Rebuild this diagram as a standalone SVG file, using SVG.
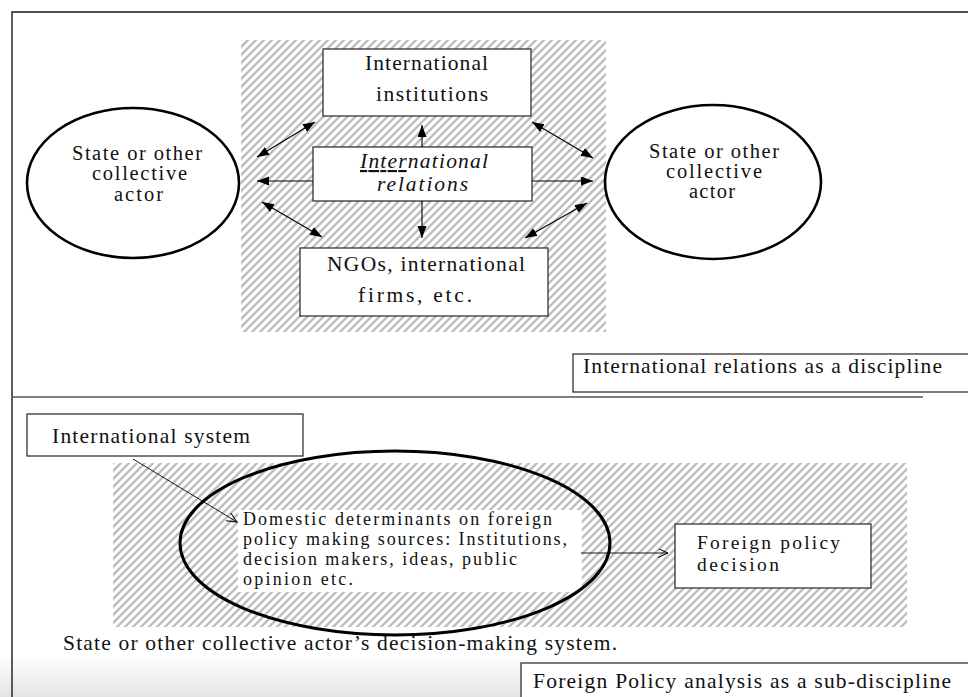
<svg xmlns="http://www.w3.org/2000/svg" width="968" height="697" viewBox="0 0 968 697">
<defs>
<pattern id="hatch" patternUnits="userSpaceOnUse" width="8" height="8">
<path d="M-2,2 L2,-2 M0,8 L8,0 M6,10 L10,6" stroke="#bdbdbd" stroke-width="2.4"/>
</pattern>
<linearGradient id="fade" x1="0" y1="0" x2="0" y2="1">
<stop offset="0" stop-color="#ffffff"/>
<stop offset="1" stop-color="#e4e4e4"/>
</linearGradient>
<marker id="fa" markerUnits="userSpaceOnUse" markerWidth="13" markerHeight="10" refX="12" refY="4.5" orient="auto-start-reverse">
<path d="M0,0 L12,4.5 L0,9 z" fill="#000"/>
</marker>
<marker id="oa" markerUnits="userSpaceOnUse" markerWidth="12" markerHeight="10" refX="10" refY="4.5" orient="auto">
<path d="M0,0 L10,4.5 L0,9" fill="none" stroke="#000" stroke-width="1"/>
</marker>
</defs>
<style>
text{font-family:"Liberation Serif","Times New Roman",serif;fill:#111;}
.t20{font-size:21.5px;}
.t18{font-size:20.5px;}
.t19{font-size:18px;}
.tfp{font-size:19.5px;}
.box{fill:#fff;stroke:#333;stroke-width:1.3;}
.ell{fill:#fff;stroke:#000;stroke-width:2.6;}
.con{stroke:#000;stroke-width:1.1;fill:none;}
</style>
<rect x="0" y="0" width="968" height="697" fill="#fff"/>
<rect x="0" y="655" width="968" height="42" fill="url(#fade)"/>
<g id="frame" fill="none" stroke="#1a1a1a" stroke-width="1.4">
<path d="M12,697 L12,12 L968,12"/>
<path d="M12,397 L923,397" stroke="#555" stroke-width="1.3"/>
</g>
<rect id="ir-area" x="241" y="40" width="365" height="292" fill="url(#hatch)"/>
<rect id="fpa-area" x="113" y="463" width="794" height="164" fill="url(#hatch)"/>

<g id="institutions">
<rect class="box" x="323" y="49" width="208" height="67"/>
<text class="t20" x="365" y="70" textLength="123" lengthAdjust="spacing">International</text>
<text class="t20" x="376" y="101" textLength="112" lengthAdjust="spacing">institutions</text>
</g>
<g id="ir">
<rect class="box" x="313" y="147" width="219" height="54"/>
<text class="t20" font-style="italic" x="360" y="168" textLength="128" lengthAdjust="spacing"><tspan text-decoration="underline">Inter</tspan>national</text>
<text class="t20" font-style="italic" x="377" y="191" textLength="91" lengthAdjust="spacing">relations</text>
</g>
<g id="ngos">
<rect class="box" x="300" y="248" width="248" height="68"/>
<text class="t20" x="327" y="271" textLength="198" lengthAdjust="spacing">NGOs, international</text>
<text class="t20" x="358" y="302" textLength="114" lengthAdjust="spacing">firms, etc.</text>
</g>
<g id="state-left">
<ellipse class="ell" cx="133" cy="183" rx="106" ry="75"/>
<text class="t18" x="72" y="160" textLength="130" lengthAdjust="spacing">State or other</text>
<text class="t18" x="92" y="180" textLength="95" lengthAdjust="spacing">collective</text>
<text class="t18" x="114" y="201" textLength="49" lengthAdjust="spacing">actor</text>
</g>
<g id="state-right">
<ellipse class="ell" cx="713" cy="182" rx="108" ry="77"/>
<text class="t18" x="649" y="158" textLength="130" lengthAdjust="spacing">State or other</text>
<text class="t18" x="666" y="178" textLength="96" lengthAdjust="spacing">collective</text>
<text class="t18" x="689" y="198" textLength="46" lengthAdjust="spacing">actor</text>
</g>
<g id="label-ir">
<rect class="box" x="573" y="354" width="410" height="38"/>
<text class="t20" x="583" y="373" textLength="359" lengthAdjust="spacing">International relations as a discipline</text>
</g>

<g id="intl-system">
<rect class="box" x="27" y="414" width="276" height="42"/>
<text class="t20" x="52" y="443" textLength="198" lengthAdjust="spacing">International system</text>
</g>
<g id="decision-system">
<rect x="238" y="510" width="344" height="82" fill="#fff"/>
<ellipse cx="395" cy="543" rx="215" ry="92" fill="none" stroke="#000" stroke-width="3"/>
<text class="t19" x="243" y="525" textLength="309" lengthAdjust="spacing">Domestic determinants on foreign</text>
<text class="t19" x="243" y="545" textLength="324" lengthAdjust="spacing">policy making sources: Institutions,</text>
<text class="t19" x="243" y="565" textLength="274" lengthAdjust="spacing">decision makers, ideas, public</text>
<text class="t19" x="243" y="585" textLength="110" lengthAdjust="spacing">opinion etc.</text>
</g>
<g id="fp-decision">
<rect class="box" x="675" y="524" width="196" height="64"/>
<text class="tfp" x="697" y="549" textLength="143" lengthAdjust="spacing">Foreign policy</text>
<text class="tfp" x="697" y="571" textLength="82" lengthAdjust="spacing">decision</text>
</g>
<text id="system-caption" class="t20" x="63" y="650" textLength="554" lengthAdjust="spacing">State or other collective actor’s decision-making system.</text>
<g id="label-fpa">
<rect class="box" x="521" y="663" width="460" height="50"/>
<text class="t20" x="533" y="688" textLength="418" lengthAdjust="spacing">Foreign Policy analysis as a sub-discipline</text>
</g>

<g id="connectors" class="con">
<line x1="422" y1="147" x2="422" y2="125" marker-end="url(#fa)"/>
<line x1="422" y1="201" x2="422" y2="238" marker-end="url(#fa)"/>
<line x1="313" y1="181" x2="257" y2="181" marker-end="url(#fa)"/>
<line x1="532" y1="181" x2="593" y2="181" marker-end="url(#fa)"/>
<line x1="257" y1="157" x2="315" y2="122" marker-start="url(#fa)" marker-end="url(#fa)"/>
<line x1="532" y1="122" x2="593" y2="158" marker-start="url(#fa)" marker-end="url(#fa)"/>
<line x1="262" y1="202" x2="322" y2="237" marker-start="url(#fa)" marker-end="url(#fa)"/>
<line x1="587" y1="203" x2="525" y2="238" marker-start="url(#fa)" marker-end="url(#fa)"/>
<line x1="133" y1="459" x2="237" y2="522" marker-end="url(#oa)" stroke-width="0.9"/>
<line x1="581" y1="553" x2="668" y2="553" marker-end="url(#oa)" stroke-width="0.9"/>
</g>
</svg>
